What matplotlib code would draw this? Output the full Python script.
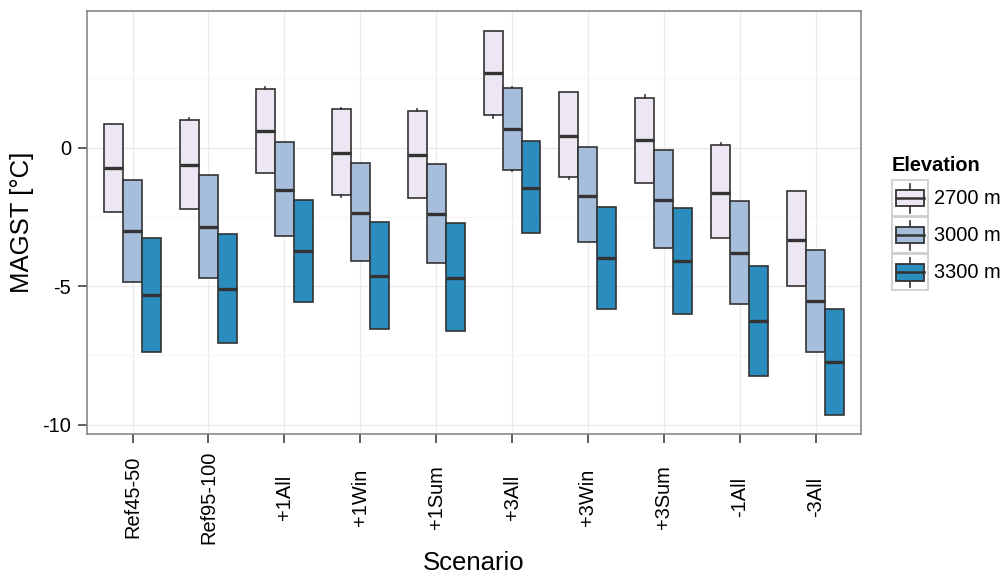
import matplotlib
matplotlib.use('Agg')
import matplotlib.pyplot as plt
import numpy as np
from matplotlib.legend_handler import HandlerBase
from matplotlib.patches import Rectangle
from matplotlib.lines import Line2D

plt.rcParams['font.family'] = ['Liberation Sans', 'DejaVu Sans']

scenarios = ['Ref45-50', 'Ref95-100', '+1All', '+1Win', '+1Sum',
             '+3All', '+3Win', '+3Sum', '-1All', '-3All']
elevations = ['2700 m', '3000 m', '3300 m']
colours = ['#ECE7F2', '#A6BDDB', '#2B8CBE']

# box statistics per elevation, one value per scenario
q3_2700 = [0.85, 0.98, 2.11, 1.38, 1.32, 4.21, 2.02, 1.80, 0.11, -1.57]
med_2700 = [-0.73, -0.63, 0.61, -0.19, -0.26, 2.69, 0.43, 0.27, -1.65, -3.33]
q1_2700 = [-2.32, -2.20, -0.91, -1.70, -1.81, 1.19, -1.05, -1.29, -3.27, -5.01]
hi_2700 = [0.85, 1.05, 2.17, 1.44, 1.40, 4.21, 2.02, 1.90, 0.17, -1.57]
lo_2700 = [-2.32, -2.20, -0.91, -1.78, -1.81, 1.08, -1.14, -1.29, -3.27, -5.01]

q3_3000 = [-1.18, -0.98, 0.19, -0.57, -0.58, 2.14, 0.02, -0.08, -1.91, -3.69]
med_3000 = [-3.00, -2.88, -1.53, -2.35, -2.39, 0.66, -1.73, -1.88, -3.81, -5.54]
q1_3000 = [-4.86, -4.72, -3.19, -4.11, -4.17, -0.80, -3.42, -3.62, -5.65, -7.38]
hi_3000 = [-1.18, -0.98, 0.19, -0.57, -0.58, 2.17, 0.02, -0.08, -1.91, -3.69]
lo_3000 = [-4.86, -4.72, -3.19, -4.11, -4.17, -0.84, -3.42, -3.62, -5.65, -7.38]

q3_3300 = [-3.27, -3.13, -1.90, -2.70, -2.71, 0.23, -2.14, -2.17, -4.28, -5.82]
med_3300 = [-5.32, -5.10, -3.74, -4.63, -4.69, -1.45, -3.98, -4.10, -6.26, -7.73]
q1_3300 = [-7.39, -7.06, -5.59, -6.53, -6.61, -3.09, -5.82, -6.00, -8.24, -9.65]
hi_3300 = [-3.27, -3.13, -1.90, -2.70, -2.71, 0.23, -2.14, -2.17, -4.28, -5.82]
lo_3300 = [-7.39, -7.06, -5.59, -6.53, -6.61, -3.09, -5.82, -6.00, -8.24, -9.65]

groups = [
    (q1_2700, med_2700, q3_2700, lo_2700, hi_2700),
    (q1_3000, med_3000, q3_3000, lo_3000, hi_3000),
    (q1_3300, med_3300, q3_3300, lo_3300, hi_3300),
]

edge = '#333333'
fig = plt.figure(figsize=(10.04, 5.78), dpi=100)
ax = fig.add_axes([0.0867, 0.249, 0.771, 0.732])

dodge = 0.25
x = np.arange(1, len(scenarios) + 1)
for k, (q1, med, q3, lo, hi) in enumerate(groups):
    stats = []
    for i in range(len(scenarios)):
        stats.append({'q1': q1[i], 'med': med[i], 'q3': q3[i],
                      'whislo': lo[i], 'whishi': hi[i], 'fliers': []})
    ax.bxp(stats, positions=x + (k - 1) * dodge, widths=dodge,
           patch_artist=True, showcaps=False, manage_ticks=False,
           boxprops=dict(facecolor=colours[k], edgecolor=edge, linewidth=1.2),
           medianprops=dict(color=edge, linewidth=2.4, solid_capstyle='butt'),
           whiskerprops=dict(color=edge, linewidth=1.2), zorder=3)

ax.set_xlim(0.4, len(scenarios) + 0.6)
ax.set_ylim(-10.34, 4.93)
ax.set_xticks(x)
ax.set_xticklabels(scenarios, rotation=90, fontsize=14.4, va='center')
ax.set_yticks([-10, -5, 0])
ax.set_yticklabels(['-10', '-5', '0'], fontsize=14.4)
ax.set_yticks([-7.5, -2.5, 2.5], minor=True)
ax.tick_params(axis='both', which='major', length=6.5, width=1.1, color='#333333',
               labelcolor='black')
ax.tick_params(axis='y', which='major', pad=5)
ax.tick_params(axis='x', which='major', pad=39)
ax.tick_params(axis='y', which='minor', length=0)
ax.grid(which='major', color='#EBEBEB', linewidth=1.0, zorder=0)
ax.grid(which='minor', axis='y', color='#F5F5F5', linewidth=1.0, zorder=0)
ax.set_axisbelow(True)
for s in ax.spines.values():
    s.set_color('#7F7F7F')
    s.set_linewidth(1.1)

fig.text(474 / 1004, 1 - 563 / 578, 'Scenario', fontsize=18.5,
         ha='center', va='center')
fig.text(22 / 1004, 1 - 222 / 578, 'MAGST [°C]', fontsize=18.5,
         rotation=90, ha='center', va='center')


class BoxKey(HandlerBase):
    def create_artists(self, legend, orig_handle, xdescent, ydescent,
                       width, height, fontsize, trans):
        x0, y0 = -xdescent, -ydescent
        bg = Rectangle((x0, y0), width, height, facecolor='white',
                       edgecolor='#CCCCCC', linewidth=1.2, transform=trans)
        cx = x0 + width / 2
        wl = Line2D([cx, cx], [y0 + 0.1 * height, y0 + 0.9 * height],
                    color=edge, linewidth=1.2, transform=trans)
        bx = Rectangle((x0 + 0.1 * width, y0 + 0.27 * height), 0.8 * width,
                       0.46 * height, facecolor=orig_handle.get_facecolor(),
                       edgecolor=edge, linewidth=1.3, transform=trans)
        md = Line2D([x0 + 0.1 * width, x0 + 0.9 * width], [y0 + height / 2] * 2,
                    color=edge, linewidth=1.8, transform=trans)
        return [bg, wl, bx, md]


handles = [Rectangle((0, 0), 1, 1, facecolor=c) for c in colours]
leg = fig.legend(handles, elevations, title='Elevation', loc='upper left',
                 bbox_to_anchor=(0.8845, 0.737), frameon=False, fontsize=14.4,
                 handler_map={Rectangle: BoxKey()}, handlelength=1.8,
                 handleheight=2.4, labelspacing=0.05, handletextpad=0.3,
                 borderpad=0.2, borderaxespad=0, title_fontsize=14.4)
leg.get_title().set_fontweight('bold')
leg._legend_box.align = 'left'
leg._legend_box.sep = 3.6

fig.savefig('out.png', dpi=100)
